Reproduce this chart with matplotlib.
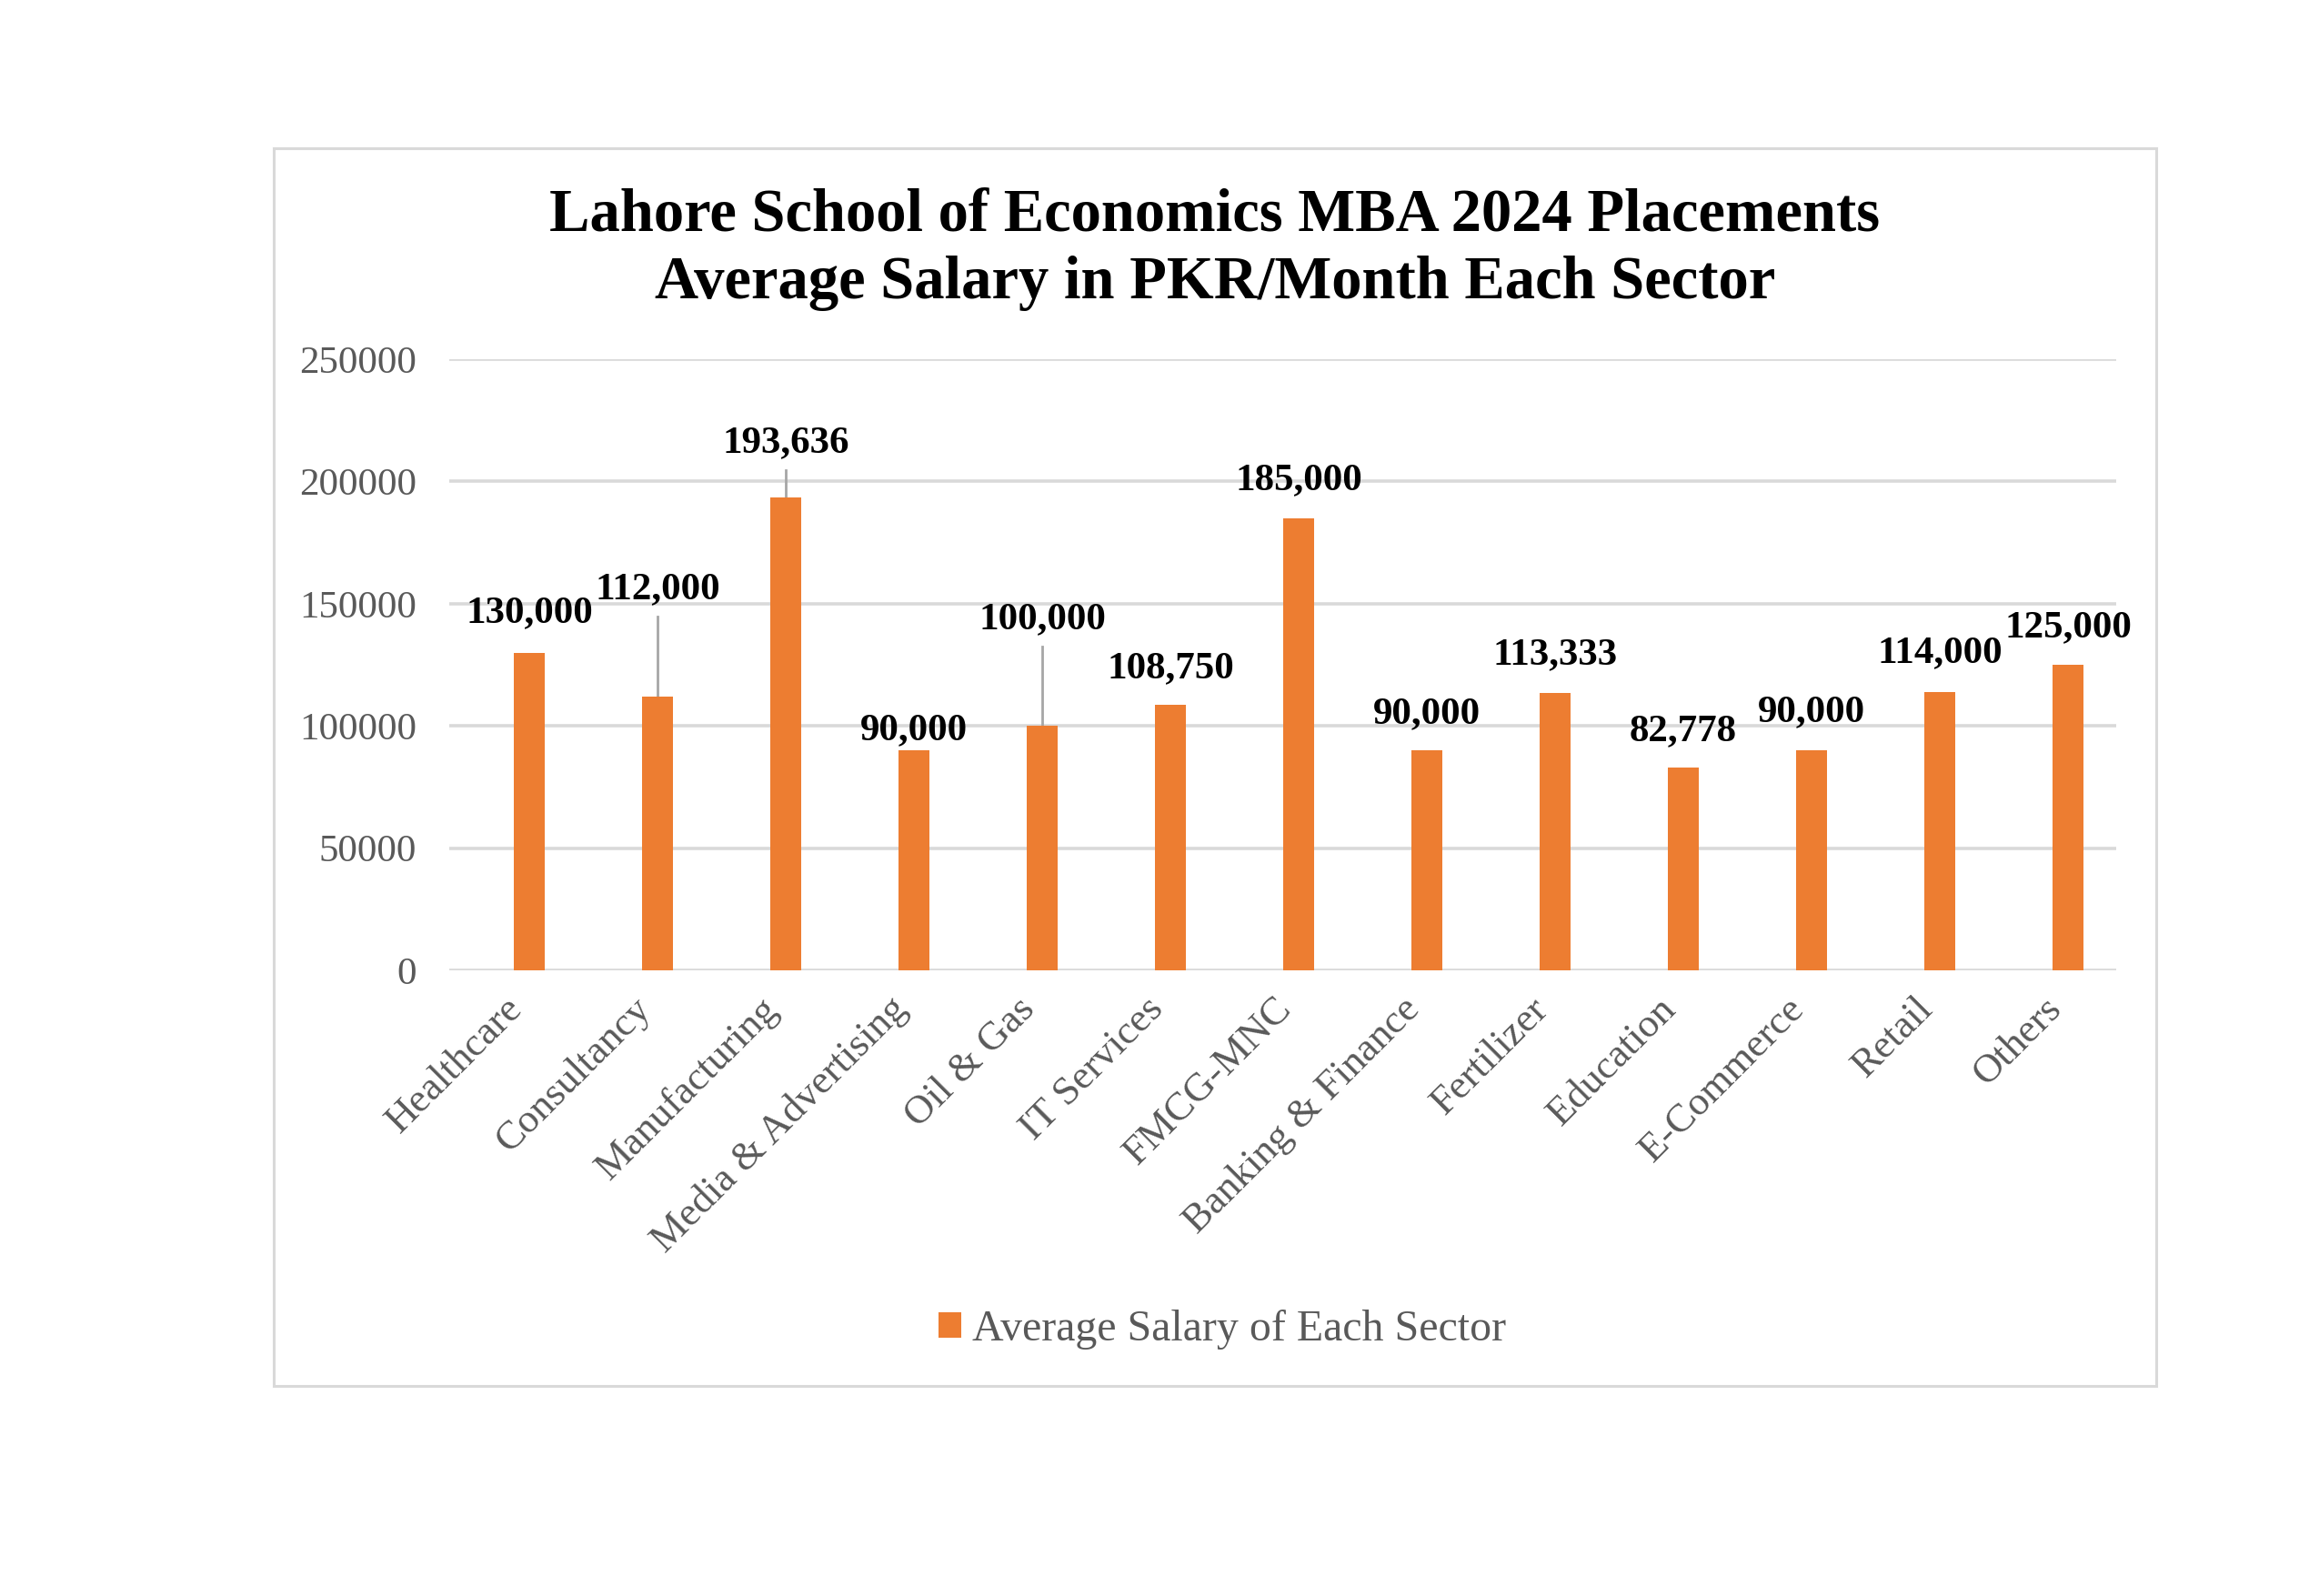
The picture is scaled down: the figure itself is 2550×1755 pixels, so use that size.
import matplotlib
matplotlib.use("Agg")
import matplotlib.pyplot as plt
import matplotlib.transforms as mtransforms
from matplotlib.patches import Patch, Rectangle

# data
sectors = ["Healthcare", "Consultancy", "Manufacturing", "Media & Advertising",
           "Oil & Gas", "IT Services", "FMCG-MNC", "Banking & Finance",
           "Fertilizer", "Education", "E-Commerce", "Retail", "Others"]
salary = [130000, 112000, 193636, 90000, 100000, 108750, 185000,
          90000, 113333, 82778, 90000, 114000, 125000]
value_labels = ["130,000", "112,000", "193,636", "90,000", "100,000", "108,750",
                "185,000", "90,000", "113,333", "82,778", "90,000", "114,000",
                "125,000"]
y_ticks = [0, 50000, 100000, 150000, 200000, 250000]

# where Excel put each data label (layout only)
label_y = [146000, 155700, 215600, 98200, 143600, 123600, 200400,
           104900, 129100, 97600, 105500, 129700, 140000]
leader = [False, True, True, False, True, False, False,
          False, False, False, False, False, False]

orange = "#ED7D31"
grid_c = "#D9D9D9"
text_c = "#595959"
serif = "Liberation Serif"

W, H = 2550, 1755
fig = plt.figure(figsize=(W / 100, H / 100), dpi=100)
fig.patch.set_facecolor("white")

# outer chart border
fig.patches.append(Rectangle((301 / W, 1 - 1524 / H), 2070 / W, 1361 / H,
                             transform=fig.transFigure, fill=False,
                             edgecolor=grid_c, linewidth=2.2))

ax = fig.add_axes([494 / W, 1 - 1067 / H, 1833 / W, 672 / H])
x = list(range(len(sectors)))
ax.bar(x, salary, width=0.24, color=orange, zorder=3)

ax.set_xlim(-0.624, 12.376)
ax.set_ylim(0, 250000)
ax.set_yticks(y_ticks)
ax.set_yticklabels([str(v) for v in y_ticks], fontsize=31, family=serif, color=text_c)
ax.yaxis.grid(True, color=grid_c, linewidth=2.6, zorder=0)
ax.set_axisbelow(True)
for s in ax.spines.values():
    s.set_visible(False)
ax.tick_params(axis="both", length=0)
ax.tick_params(axis="y", pad=26)

ax.set_xticks(x)
ax.set_xticklabels(sectors, rotation=45, ha="right", va="top",
                   rotation_mode="anchor", fontsize=32, family=serif, color=text_c)
ax.tick_params(axis="x", pad=16)
shift = mtransforms.ScaledTranslation(-0.28, 0, fig.dpi_scale_trans)
for lbl in ax.get_xticklabels():
    lbl.set_transform(lbl.get_transform() + shift)

for i in x:
    ax.text(i, label_y[i], value_labels[i], ha="center", va="center",
            fontsize=31, fontweight="bold", family=serif, color="black", zorder=4)
    if leader[i]:
        ax.plot([i, i], [salary[i], label_y[i] - 11000], color="#A6A6A6",
                linewidth=2, zorder=2)

fig.text(1336 / W, 1 - 237 / H, "Lahore School of Economics MBA 2024 Placements",
         ha="center", va="center", fontsize=48, fontweight="bold", family=serif)
fig.text(1336 / W, 1 - 312 / H, "Average Salary in PKR/Month Each Sector",
         ha="center", va="center", fontsize=48, fontweight="bold", family=serif)

handle = Patch(facecolor=orange, edgecolor="none")
fig.legend([handle], ["Average Salary of Each Sector"], loc="center",
           bbox_to_anchor=(1344 / W, 1 - 1462 / H), frameon=False,
           handlelength=0.52, handleheight=0.52, handletextpad=0.24,
           prop={"family": serif, "size": 34.5}, labelcolor=text_c)

fig.savefig("out.png", dpi=100, facecolor="white")
